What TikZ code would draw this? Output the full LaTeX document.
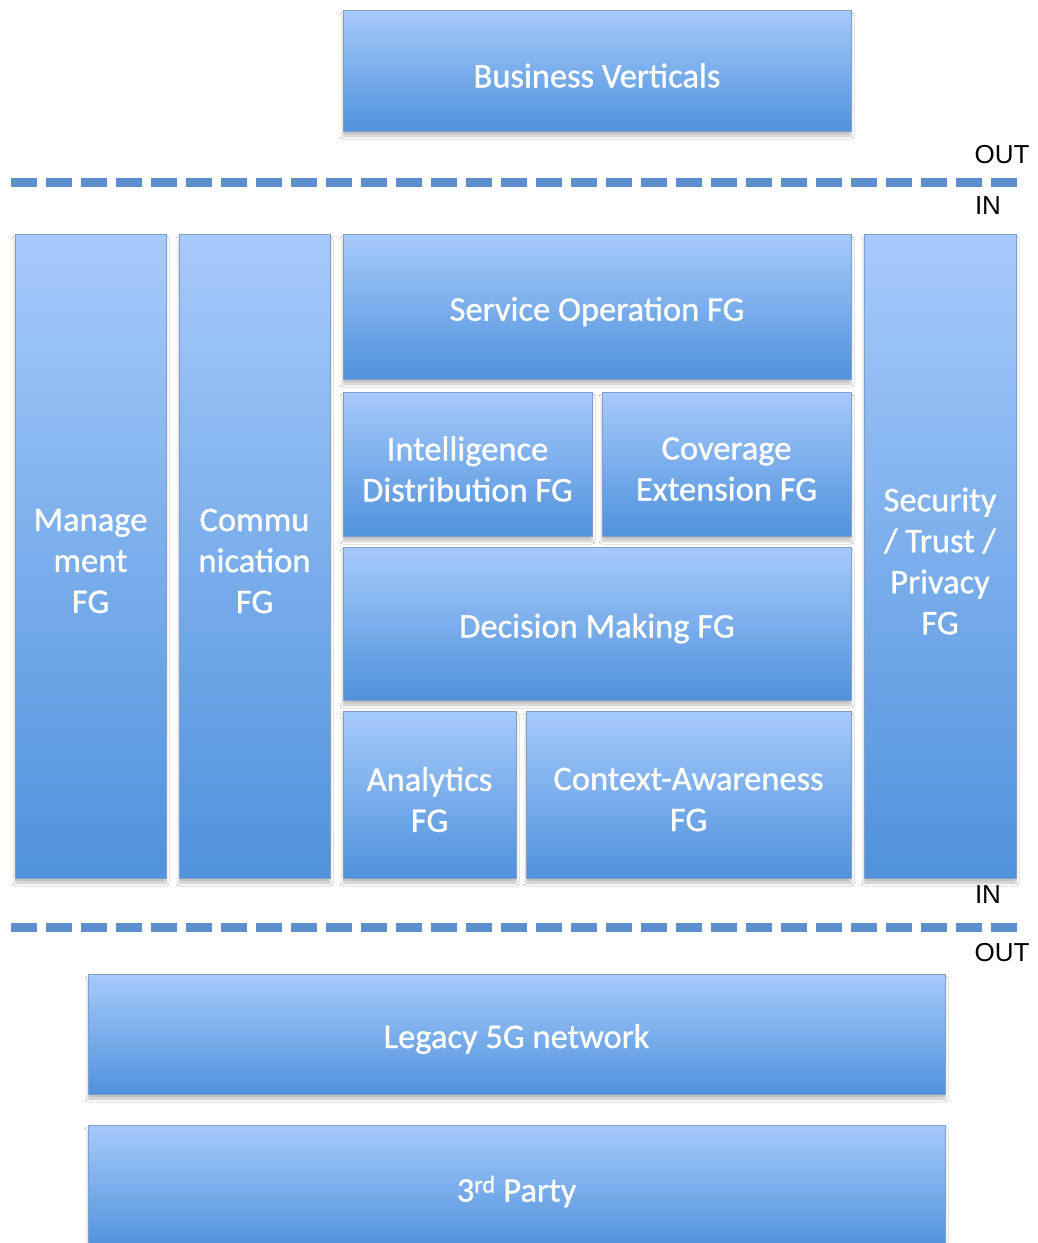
\documentclass[tikz,border=0pt]{standalone}
\usepackage{fontspec}
\setmainfont{Carlito}
\newfontfamily\lblfont{Liberation Sans}
\newfontfamily\boxfont[FakeBold=0.9]{Carlito}
\usetikzlibrary{shadows,shadows.blur}
\definecolor{boxtop}{RGB}{166,202,251}
\definecolor{boxmid}{RGB}{128,178,238}
\definecolor{boxbot}{RGB}{80,146,220}
\definecolor{boxedge}{RGB}{128,158,198}
\definecolor{dashc}{RGB}{92,143,204}
\tikzset{
  fgbox/.style={draw=boxedge, line width=0.8pt, top color=boxtop, middle color=boxmid, bottom color=boxbot,
    inner sep=0pt,
    blur shadow={shadow xshift=0pt, shadow yshift=-5pt, shadow blur steps=6, shadow opacity=25, shadow blur radius=3pt}},
  fgtext/.style={text=white, align=center, inner sep=0pt, yshift=-5pt,
    font=\boxfont\fontsize{34.5}{41}\selectfont},
  sepline/.style={draw=dashc, line width=9pt, dash pattern=on 26pt off 9pt},
  iolabel/.style={font=\lblfont\fontsize{26}{29}\selectfont, text=black, inner sep=0pt}
}
% box from (x1,y1) to (x2,y2) in pixel coords, y down
\newcommand{\fgat}[6]{%
  \node[fgbox, minimum width={(#3-#1)*1pt}, minimum height={(#4-#2)*1pt},
    label={[fgtext]center:{#6}}]
    (#5) at ({(#1+#3)/2}, {-(#2+#4)/2}) {};}
\begin{document}
\begin{tikzpicture}[x=1pt,y=1pt]
\useasboundingbox[fill=white] (0,0) rectangle (1038,-1243);

\fgat{343}{10}{851}{131}{bv}{Business Verticals}

\coordinate (t1) at (11,-182);
\coordinate (t2) at (1020,-182);
\draw[sepline] (t1) -- (t2);
\node[iolabel] (outtop) at (1002,-155) {OUT};
\node[iolabel] (intop) at (988,-206) {IN};

\fgat{15}{234}{166}{878}{mg}{Manage\\ment\\FG}
\fgat{179}{234}{330}{878}{cm}{Commu\\nication\\FG}
\fgat{343}{234}{851}{379}{so}{Service Operation FG}
\fgat{343}{392}{592}{536}{id}{Intelligence\\Distribution FG}
\fgat{602}{392}{851}{536}{ce}{Coverage\\Extension FG}
\fgat{343}{547}{851}{700}{dm}{Decision Making FG}
\fgat{343}{711}{516}{878}{an}{Analytics\\FG}
\fgat{526}{711}{851}{878}{ca}{Context-Awareness\\FG}
\fgat{864}{234}{1016}{878}{sc}{Security\\/ Trust /\\Privacy\\FG}

\node[iolabel] (inbot) at (988,-895) {IN};
\coordinate (b1) at (11,-927);
\coordinate (b2) at (1020,-927);
\draw[sepline] (b1) -- (b2);
\node[iolabel] (outbot) at (1002,-953) {OUT};

\fgat{88}{974}{945}{1094}{lg}{Legacy 5G network}
\fgat{88}{1125}{945}{1248}{tp}{3\textsuperscript{rd} Party}
\end{tikzpicture}
\end{document}
